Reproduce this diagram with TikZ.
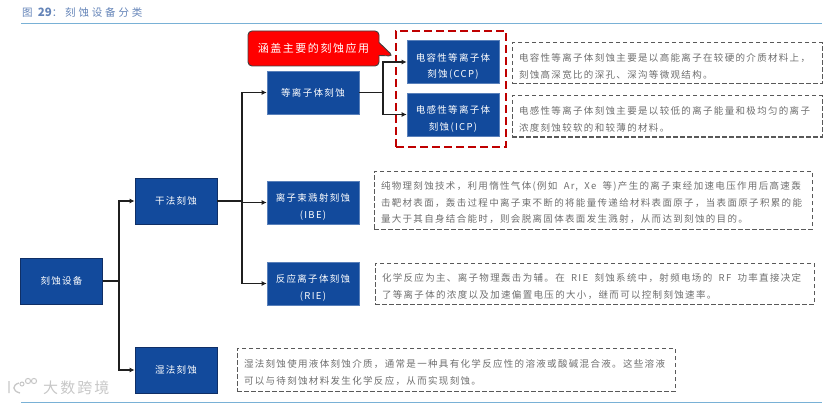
\documentclass[tikz,border=0pt]{standalone}
\usepackage{fontspec}
\setmainfont[LetterSpace=14]{Noto Sans CJK SC}
\newfontfamily\titlefont[LetterSpace=27]{Noto Sans CJK SC}
\newfontfamily\numfont{Noto Sans CJK SC}
\usetikzlibrary{shapes.callouts,arrows.meta}
\definecolor{boxblue}{HTML}{124A9C}
\definecolor{boxline}{HTML}{0F2F66}
\definecolor{ruleblue}{HTML}{79B1D6}
\definecolor{titleblue}{HTML}{6484B8}
\definecolor{notegray}{HTML}{6E6E6E}
\newcommand{\dropline}{\rule{0pt}{17pt}}
\tikzset{
    kindbox/.style={fill=boxblue, text=white, align=center, font=\fontsize{9.5}{16.5}\selectfont, inner sep=0pt},
    darkbox/.style={kindbox, draw=boxline, line width=0.8pt, minimum width=82pt, minimum height=46pt},
    lightbox/.style={kindbox, draw=boxblue!70!white, line width=0.6pt, minimum width=92pt, minimum height=43pt},
    notebox/.style={draw=black!65, dash pattern=on 4.5pt off 2.5pt, line width=1pt, text=notegray, align=left, inner sep=0pt, font=\fontsize{9.5}{16.5}\selectfont, execute at begin node={\rule{0pt}{14pt}}},
    branch/.style={draw=black!88, line width=1.2pt},
    arrowline/.style={branch, -{Latex[length=5pt,width=5pt]}}
}
\begin{document}
\begin{tikzpicture}[x=1pt,y=-1pt]
    \useasboundingbox (0,0) rectangle (831,404);

    \node[text=titleblue, anchor=west, inner sep=0pt, font=\fontsize{10.5}{12}\selectfont\titlefont] (title) at (22,13) {图 {\numfont\fontsize{11.5}{12}\selectfont\bfseries 29}：刻蚀设备分类};
    \coordinate (topL) at (21,23);
    \coordinate (topR) at (822,23);
    \coordinate (botL) at (21,402);
    \coordinate (botR) at (822,402);
    \draw[ruleblue, line width=0.9pt] (topL) -- (topR);
    \draw[ruleblue, line width=0.9pt] (botL) -- (botR);

    % left column
    \node[darkbox] (root) at (61.5,281) {刻蚀设备};
    \node[darkbox] (dry) at (176,201) {干法刻蚀};
    \node[darkbox] (wet) at (176,370) {湿法刻蚀};

    % middle column
    \node[lightbox] (plasma) at (313,92.5) {等离子体刻蚀};
    \node[lightbox] (ibe) at (313,202.5) {\dropline 离子束溅射刻蚀\\(IBE)};
    \node[lightbox] (rie) at (313,283.5) {\dropline 反应离子体刻蚀\\(RIE)};
    \node[lightbox] (ccp) at (453,62) {\dropline 电容性等离子体\\刻蚀(CCP)};
    \node[lightbox] (icp) at (453,114.5) {\dropline 电感性等离子体\\刻蚀(ICP)};

    % red frame and callout
    \node[draw=red!75!black, dash pattern=on 8pt off 4pt, line width=1.3pt, minimum width=110pt, minimum height=116pt, inner sep=0pt] (frame) at (451,89) {};
    \coordinate (calltip) at (393,56);
    \node[rectangle callout, rounded corners=4pt, fill=red, draw=black!75, line width=0.9pt, text=white, minimum width=131pt, minimum height=35pt, inner sep=0pt, font=\fontsize{11}{12}\selectfont, callout absolute pointer={(calltip)}, callout pointer width=13pt] (callout) at (313.5,48.5) {涵盖主要的刻蚀应用};

    % notes
    \node[notebox, minimum width=310pt, minimum height=41pt, text width=296pt] (ccpnote) at (667,63.5) {电容性等离子体刻蚀主要是以高能离子在较硬的介质材料上，\\刻蚀高深宽比的深孔、深沟等微观结构。};
    \node[notebox, minimum width=310pt, minimum height=41pt, text width=296pt] (icpnote) at (667,116.5) {电感性等离子体刻蚀主要是以较低的离子能量和极均匀的离子\\浓度刻蚀较软的和较薄的材料。};
    \node[notebox, minimum width=438pt, minimum height=58pt, text width=424pt] (ibenote) at (593,200) {纯物理刻蚀技术，利用惰性气体(例如\ \ Ar,\ \ Xe\ \ 等)产生的离子束经加速电压作用后高速轰\\击靶材表面，轰击过程中离子束不断的将能量传递给材料表面原子，当表面原子积累的能\\量大于其自身结合能时，则会脱离固体表面发生溅射，从而达到刻蚀的目的。};
    \node[notebox, minimum width=439pt, minimum height=41pt, text width=425pt] (rienote) at (594.5,283.5) {化学反应为主、离子物理轰击为辅。在\ \ RIE\ \ 刻蚀系统中，射频电场的\ \ RF\ \ 功率直接决定\\了等离子体的浓度以及加速偏置电压的大小，继而可以控制刻蚀速率。};
    \node[notebox, minimum width=438pt, minimum height=43pt, text width=424pt] (wetnote) at (456,369.5) {湿法刻蚀使用液体刻蚀介质，通常是一种具有化学反应性的溶液或酸碱混合液。这些溶液\\可以与待刻蚀材料发生化学反应，从而实现刻蚀。};

    % connectors
    \coordinate (rootfork) at (119,281);
    \coordinate (dryfork) at (242,201);
    \coordinate (plasmafork) at (383,92.5);
    \draw[branch] (root.east) -- (rootfork);
    \draw[arrowline] (rootfork) |- (dry.west);
    \draw[arrowline] (rootfork) |- (wet.west);
    \draw[branch] (dry.east) -- (dryfork);
    \draw[arrowline] (dryfork) |- (plasma.west);
    \draw[arrowline] (dryfork) |- (ibe.west);
    \draw[arrowline] (dryfork) |- (rie.west);
    \draw[branch] (plasma.east) -- (plasmafork);
    \draw[arrowline] (plasmafork) |- (ccp.west);
    \draw[arrowline] (plasmafork) |- (icp.west);

    % watermark
    \node[text=black!22, anchor=west, inner sep=0pt, font=\fontsize{15}{18}\selectfont] (mark) at (43,388) {大数跨境};
    \draw[black!22, line width=1.3pt] (9,381) -- (9,393) (19,383) .. controls (12,385) and (12,391) .. (20,393);
    \draw[black!22, line width=1pt] (22,384) circle (2) (28,381) circle (2.6) (34,381) circle (2.6);
\end{tikzpicture}
\end{document}
